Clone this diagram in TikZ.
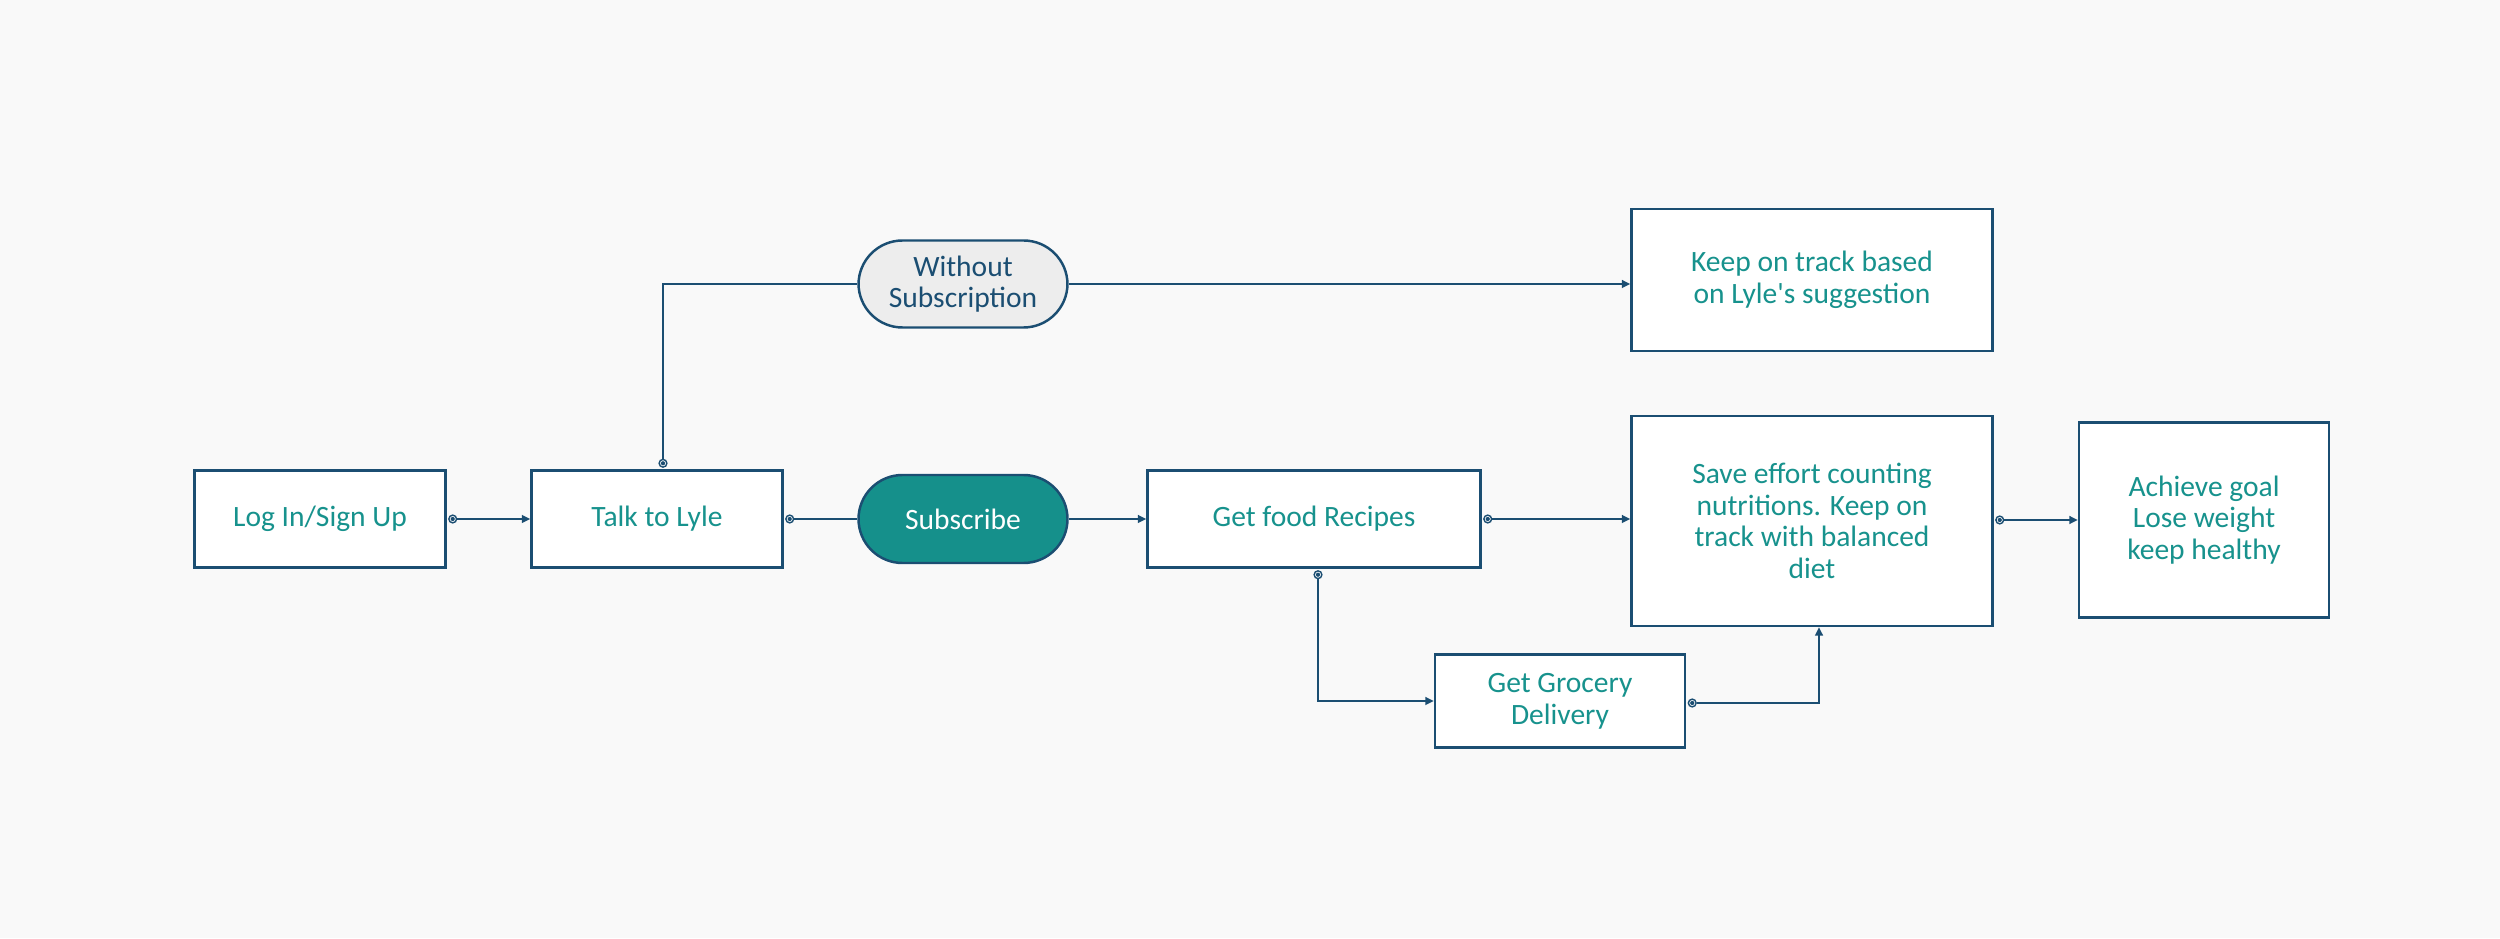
\documentclass[tikz,border=0pt]{standalone}
\usepackage{fontspec}
\setmainfont{Carlito}
\usetikzlibrary{calc,positioning}
\usetikzlibrary{arrows.meta}
\definecolor{edgeblue}{HTML}{1B4E72}
\definecolor{tealtext}{HTML}{17928D}
\definecolor{tealfill}{HTML}{15908B}
\definecolor{pillgray}{HTML}{EDEDED}
\definecolor{paper}{HTML}{F9F9F9}
\tikzset{>={Triangle[length=2.4pt,width=2.2pt]}}

\begin{document}
\begin{tikzpicture}
        \fill[paper] (0,0) rectangle (25,9.38);
        \useasboundingbox (0,0) rectangle (25,9.38);

          \tikzstyle{box} = [draw=edgeblue, line width=0.7pt, fill=white, rectangle, align=center, text=tealtext, font=\fontsize{8.4}{9}\selectfont]
          \tikzstyle{pill} = [box, rounded corners=0.44cm]
          \tikzstyle{tap} = [circle, draw=edgeblue, fill=white, line width=0.4pt, inner sep=0pt, minimum size=2.2pt,
                             path picture={\fill[edgeblue] (path picture bounding box.center) circle (0.6pt);}]
          \tikzstyle{link} = [draw=edgeblue, line width=0.65pt]

          \node[box, minimum width=2.51cm, minimum height=0.97cm] (login) at (3.20,4.19) {Log In/Sign Up};
          \node[box, minimum width=2.51cm, minimum height=0.97cm] (talk) at (6.57,4.19) {Talk to Lyle};

          \node[pill, minimum width=2.09cm, minimum height=0.88cm, fill=tealfill, text=white] (subscribe) at (9.63,4.19) {Subscribe};
          \node[pill, minimum width=2.09cm, minimum height=0.87cm, fill=pillgray, text=edgeblue] (without) at (9.63,6.54) {Without\\Subscription};

          \node[box, minimum width=3.61cm, minimum height=1.42cm] (keep) at (18.12,6.58) {Keep on track based\\on Lyle\textquotesingle s suggestion};
          \node[box, minimum width=3.33cm, minimum height=0.97cm] (recipes) at (13.14,4.19) {Get food Recipes};
          \node[box, minimum width=3.61cm, minimum height=2.10cm] (save) at (18.12,4.17) {Save effort counting\\nutritions. Keep on\\track with balanced\\diet};
          \node[box, minimum width=2.50cm, minimum height=1.95cm] (goal) at (22.04,4.18) {Achieve goal\\Lose weight\\keep healthy};
          \node[box, minimum width=2.50cm, minimum height=0.93cm] (grocery) at (15.60,2.37) {Get Grocery\\Delivery};

          \node[tap] (t1) at ([xshift=0.06cm]login.east) {};
          \node[tap] (t2) at ([xshift=0.06cm,yshift=0.06cm]talk.north) {};
          \node[tap] (t3) at ([xshift=0.06cm]talk.east) {};
          \node[tap] (t4) at ([xshift=0.06cm]recipes.east) {};
          \node[tap] (t5) at ([xshift=0.04cm,yshift=-0.06cm]recipes.south) {};
          \node[tap] (t6) at ([xshift=0.06cm,yshift=-0.02cm]grocery.east) {};
          \node[tap] (t7) at ([xshift=0.06cm,yshift=0.01cm]save.east) {};

          \draw[link, ->] (t1) -- (talk.west);
          \draw[link] (t2) |- (without.west);
          \draw[link, ->] (without.east) -- (without.east -| keep.west);
          \draw[link] (t3) -- (subscribe.west);
          \draw[link, ->] (subscribe.east) -- (recipes.west);
          \draw[link, ->] (t4) -- (t4 -| save.west);
          \draw[link, ->] (t5) |- (grocery.west);
          \draw[link, ->] (t6) -| ([xshift=0.07cm]save.south);
          \draw[link, ->] (t7) -- (t7 -| goal.west);

      \end{tikzpicture}
\end{document}
